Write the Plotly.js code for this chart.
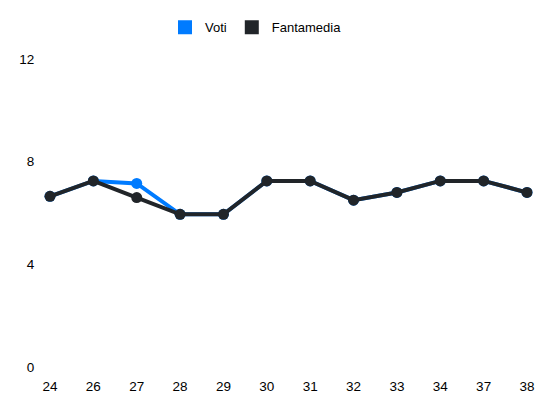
<!DOCTYPE html>
<html>
<head>
<meta charset="utf-8">
<script src="https://cdn.plot.ly/plotly-3.0.1.min.js"></script>
<style>
  html, body { margin: 0; padding: 0; background: #fff; }
  #chart { width: 550px; height: 412px; }
</style>
</head>
<body>
<div id="chart"></div>
<script>
// giornate (categorical x axis)
var giornate = ["24", "26", "27", "28", "29", "30", "31", "32", "33", "34", "37", "38"];
var voti = [6.65, 7.25, 7.15, 5.95, 5.95, 7.25, 7.25, 6.5, 6.8, 7.25, 7.25, 6.8];
var fantamedia = [6.65, 7.25, 6.6, 5.95, 5.95, 7.25, 7.25, 6.5, 6.8, 7.25, 7.25, 6.8];
var yTicks = [0, 4, 8, 12];

var blue = "#007bff";
var dark = "#212529";

function lineTrace(name, values, color) {
    return {
        type: "scatter",
        mode: "lines+markers",
        name: name,
        x: giornate,
        y: values,
        line: {color: color, width: 4},
        marker: {color: color, size: 11},
        cliponaxis: false,
        showlegend: false,
        hoverinfo: "x+y+name"
    };
}

// legend only entries, drawn as squares
function legendTrace(name, color) {
    return {
        type: "scatter",
        mode: "markers",
        name: name,
        x: [null],
        y: [null],
        marker: {color: color, size: 14, symbol: "square"},
        showlegend: true
    };
}

var data = [
    lineTrace("Voti", voti, blue),
    lineTrace("Fantamedia", fantamedia, dark),
    legendTrace("Voti", blue),
    legendTrace("Fantamedia", dark)
];

var layout = {
    width: 550,
    height: 412,
    margin: {t: 59, b: 45, l: 50, r: 23},
    paper_bgcolor: "#fff",
    plot_bgcolor: "#fff",
    font: {family: "Liberation Sans, Arial, sans-serif", size: 13.5, color: "#000"},
    showlegend: true,
    legend: {
        orientation: "h",
        x: 0.3,
        xanchor: "left",
        xref: "container",
        y: 0.934,
        yanchor: "middle",
        yref: "container",
        itemwidth: 30,
        font: {size: 13}
    },
    xaxis: {
        type: "category",
        range: [0, 11],
        showgrid: false,
        zeroline: false,
        showline: false,
        ticks: "outside",
        ticklen: 7,
        tickcolor: "rgba(0,0,0,0)"
    },
    yaxis: {
        range: [0, 12],
        tickvals: yTicks,
        showgrid: false,
        zeroline: false,
        showline: false,
        ticks: "outside",
        ticklen: 12,
        tickcolor: "rgba(0,0,0,0)"
    }
};

Plotly.newPlot("chart", data, layout, {displayModeBar: false, staticPlot: true});
</script>
</body>
</html>
